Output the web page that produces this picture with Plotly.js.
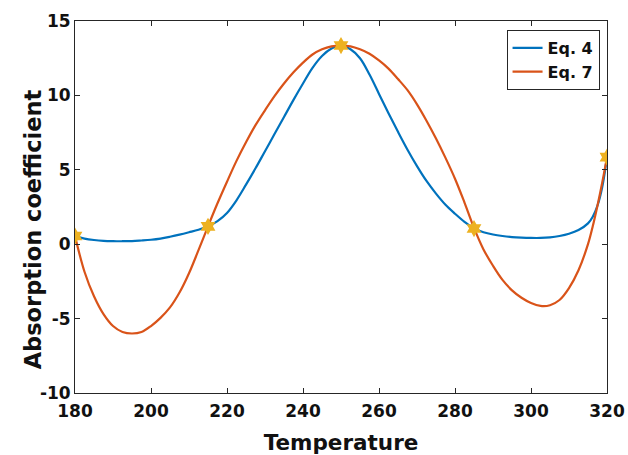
<!DOCTYPE html>
<html>
<head>
<meta charset="utf-8">
<script src="https://cdn.plot.ly/plotly-3.0.1.min.js"></script>
<style>html,body{margin:0;padding:0;background:#fff;}#chart{width:628px;height:455px;}</style>
</head>
<body>
<div id="chart"></div>
<script>
// Temperature samples
const temperature = [180,182.5,185,187.5,190,192.5,195,197.5,200,202.5,205,207.5,210,212.5,215,217.5,220,222.5,225,227.5,230,232.5,235,237.5,240,242.5,245,247.5,250,252.5,255,257.5,260,262.5,265,267.5,270,272.5,275,277.5,280,282.5,285,287.5,290,292.5,295,297.5,300,302.5,305,307.5,310,312.5,315,316.25,317.5,318.75,320];
// Eq. 4 (blue)
const eq4 = [0.55,0.38,0.28,0.22,0.2,0.2,0.21,0.25,0.3,0.38,0.5,0.64,0.8,0.97,1.2,1.55,2.1,2.95,4.0,5.1,6.25,7.4,8.55,9.7,10.8,11.85,12.65,13.15,13.35,13.1,12.5,11.4,10.1,8.8,7.55,6.35,5.25,4.25,3.4,2.65,2.05,1.5,1.05,0.8,0.65,0.55,0.48,0.44,0.42,0.42,0.46,0.55,0.7,0.95,1.4,1.85,2.6,3.85,5.85];
// Eq. 7 (red)
const eq7 = [0.55,-1.85,-3.5,-4.7,-5.5,-5.9,-6.0,-5.9,-5.5,-4.95,-4.25,-3.25,-1.95,-0.4,1.2,2.75,4.2,5.6,6.85,8.0,9.0,9.95,10.8,11.55,12.2,12.75,13.1,13.3,13.35,13.3,13.1,12.8,12.35,11.8,11.1,10.35,9.4,8.3,7.1,5.8,4.4,2.8,1.1,-0.35,-1.45,-2.4,-3.1,-3.6,-3.95,-4.15,-4.1,-3.75,-2.95,-1.75,0.0,1.2,2.6,4.15,5.85];
// Star markers (data points)
const markerT = [180,215,250,285,320];
const markerV = [0.55,1.2,13.35,1.05,5.85];
const seriesNames = ["Eq. 4","Eq. 7"];
const xTicks = [180,200,220,240,260,280,300,320];
const yTicks = [-10,-5,0,5,10,15];

const axisColor = '#262626';
const tickFont = {family:'DejaVu Sans', size:17, color:'#111', weight:'bold'};

const traces = [
  {x:temperature, y:eq4, name:seriesNames[0], mode:'lines', type:'scatter',
   line:{color:'#0072BD', width:2.2, shape:'spline', smoothing:1}},
  {x:temperature, y:eq7, name:seriesNames[1], mode:'lines', type:'scatter',
   line:{color:'#D95319', width:2.2, shape:'spline', smoothing:1}},
  {x:markerT, y:markerV, mode:'markers', type:'scatter', showlegend:false,
   marker:{symbol:'hexagram', size:13, color:'#EDB120', line:{width:0}}}
];

const layout = {
  width:628, height:455,
  margin:{l:75, r:21, t:21, b:62, pad:0},
  paper_bgcolor:'#fff', plot_bgcolor:'#fff',
  showlegend:true,
  xaxis:{range:[180,320], tickvals:xTicks, ticktext:xTicks.map(String),
    ticks:'inside', ticklen:5, tickwidth:1, tickcolor:axisColor,
    showline:true, linecolor:axisColor, linewidth:1, mirror:'ticks',
    showgrid:false, zeroline:false, tickfont:tickFont, ticklabelstandoff:3,
    title:{text:'Temperature', font:{family:'DejaVu Sans', size:21.5, color:'#111', weight:'bold'}, standoff:14}},
  yaxis:{range:[-10,15], tickvals:yTicks, ticktext:yTicks.map(String),
    ticks:'inside', ticklen:5, tickwidth:1, tickcolor:axisColor,
    showline:true, linecolor:axisColor, linewidth:1, mirror:'ticks',
    showgrid:false, zeroline:false, tickfont:tickFont},
  annotations:[{text:'Absorption coefficient', xref:'paper', yref:'paper',
    x:-0.079, y:0.44, xanchor:'center', yanchor:'middle', textangle:-90,
    showarrow:false, font:{family:'DejaVu Sans', size:22.5, color:'#111', weight:'bold'}}],
  legend:{x:0.986, xanchor:'right', y:0.976, yanchor:'top',
    bgcolor:'#fff', bordercolor:'#262626', borderwidth:1,
    font:{family:'DejaVu Sans', size:16, color:'#111', weight:'bold'},
    itemwidth:30, tracegroupgap:0}
};

Plotly.newPlot('chart', traces, layout, {displayModeBar:false, staticPlot:true});
</script>
</body>
</html>
